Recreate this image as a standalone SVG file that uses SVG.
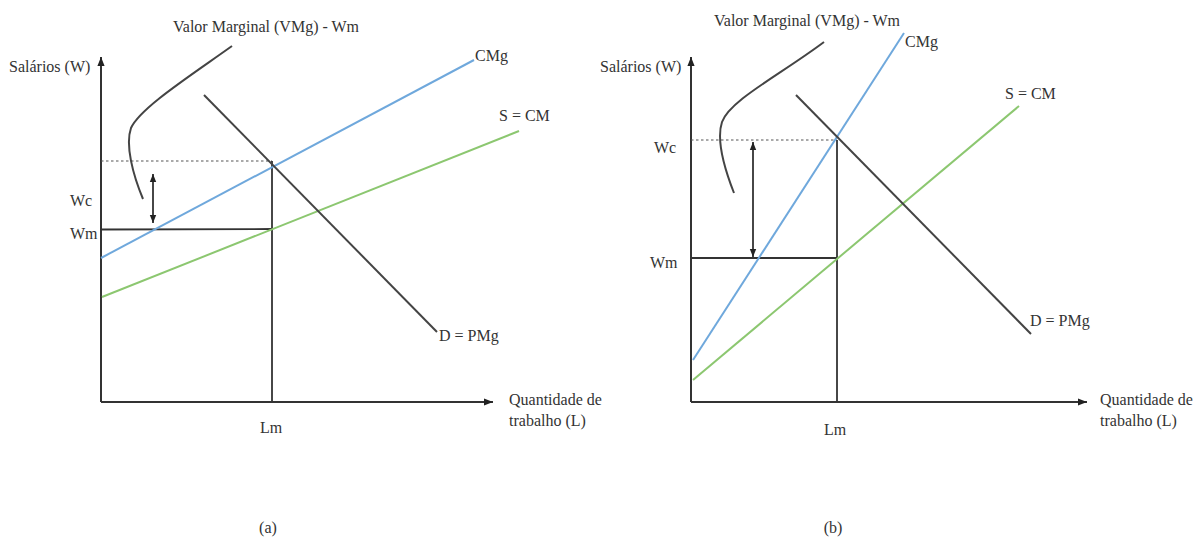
<svg xmlns="http://www.w3.org/2000/svg" width="1201" height="539" viewBox="0 0 1201 539">
<style>
text{font-family:"Liberation Serif","Times New Roman",serif;font-size:16px;fill:#333}
.ax{stroke:#333;stroke-width:2;fill:none}
.ln{stroke:#333;stroke-width:1.8;fill:none}
.dk{stroke:#444;stroke-width:2;fill:none}
.bl{stroke:#6fa8dc;stroke-width:2;fill:none}
.gr{stroke:#8cc770;stroke-width:2;fill:none}
.dot{stroke:#555;stroke-width:1.2;stroke-dasharray:2.5,2.5;fill:none}
.mid{text-anchor:middle}
</style>
<defs>
<marker id="ah" viewBox="0 0 10 10" refX="10" refY="5" markerWidth="8" markerHeight="8" orient="auto-start-reverse" markerUnits="userSpaceOnUse">
<path d="M0,1 L10,5 L0,9 z" fill="#222"/>
</marker>
<marker id="axh" viewBox="0 0 10 10" refX="10" refY="5" markerWidth="9" markerHeight="9" orient="auto" markerUnits="userSpaceOnUse">
<path d="M0,1 L10,5 L0,9 z" fill="#222"/>
</marker>
</defs>

<g id="panel-a">
<g id="a-axes">
<path class="ax" d="M101,402 L101,57" marker-end="url(#axh)"/>
<path class="ax" d="M101,402 L493,402" marker-end="url(#axh)"/>
</g>
<g id="a-connectors">
<path class="dot" d="M101,161 L272,161"/>
<path class="ln" d="M101,229.5 L272,229"/>
<path class="ln" d="M272,161 L272,402"/>
<path class="dk" d="M232,46 C190,76 140,108 131,128 C125,145 133,175 143,199"/>
<path class="ln" d="M153,174 L153,223" stroke-width="1.5" marker-start="url(#ah)" marker-end="url(#ah)"/>
</g>
<g id="a-cmg"><path class="bl" d="M101,258 L474,60"/><text x="475" y="61">CMg</text></g>
<g id="a-s"><path class="gr" d="M102,297 L519,131"/><text x="499" y="121">S = CM</text></g>
<g id="a-d"><path class="dk" d="M204,95 L437,332"/><text x="439" y="341">D = PMg</text></g>
<g id="a-labels">
<text x="173" y="32">Valor Marginal (VMg) - Wm</text>
<text x="9" y="72">Salários (W)</text>
<text x="70" y="206">Wc</text>
<text x="70" y="239">Wm</text>
<text class="mid" x="271" y="433">Lm</text>
<text x="509" y="405">Quantidade de</text>
<text x="509" y="426">trabalho (L)</text>
<text class="mid" x="268" y="533">(a)</text>
</g>
</g>

<g id="panel-b">
<g id="b-axes">
<path class="ax" d="M691,402 L691,57" marker-end="url(#axh)"/>
<path class="ax" d="M691,402 L1087,402" marker-end="url(#axh)"/>
</g>
<g id="b-connectors">
<path class="dot" d="M691,140 L837,140"/>
<path class="ln" d="M691,258 L837,258"/>
<path class="ln" d="M837,140 L837,402"/>
<path class="dk" d="M824,42 C780,75 730,100 722,122 C716,140 725,170 734,193"/>
<path class="ln" d="M753,142 L753,257" stroke-width="1.5" marker-start="url(#ah)" marker-end="url(#ah)"/>
</g>
<g id="b-cmg"><path class="bl" d="M693,360 L904,33"/><text x="905" y="47">CMg</text></g>
<g id="b-s"><path class="gr" d="M693,380 L1019,106"/><text x="1005" y="99">S = CM</text></g>
<g id="b-d"><path class="dk" d="M796,95 L1031,334"/><text x="1030" y="326">D = PMg</text></g>
<g id="b-labels">
<text x="714" y="26">Valor Marginal (VMg) - Wm</text>
<text x="600" y="72">Salários (W)</text>
<text x="654" y="153">Wc</text>
<text x="650" y="268">Wm</text>
<text class="mid" x="835" y="435">Lm</text>
<text x="1100" y="405">Quantidade de</text>
<text x="1100" y="426">trabalho (L)</text>
<text class="mid" x="833" y="533">(b)</text>
</g>
</g>
</svg>
